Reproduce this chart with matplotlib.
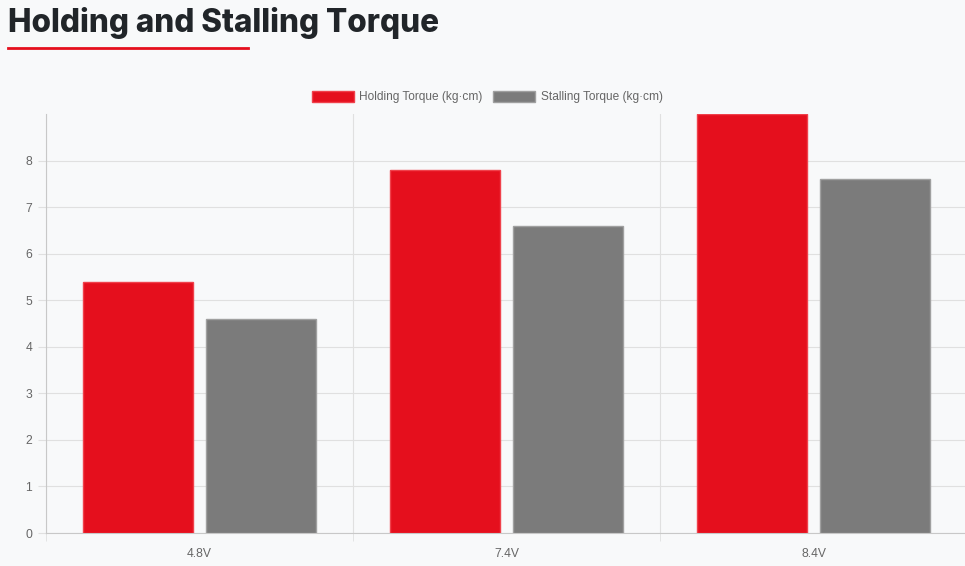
import matplotlib
matplotlib.use("Agg")
import matplotlib.pyplot as plt
from matplotlib.lines import Line2D
import numpy as np

# chart data
voltages = ["4.8V", "7.4V", "8.4V"]
holding_torque = [5.4, 7.8, 9.0]
stalling_torque = [4.6, 6.6, 7.6]
series_labels = ["Holding Torque (kg\u00b7cm)", "Stalling Torque (kg\u00b7cm)"]
y_ticks = [0, 1, 2, 3, 4, 5, 6, 7, 8]

BG = "#f8f9fa"
RED = "#e50f1d"
GRAY = "#7b7b7b"
GRID = "#e0e0e0"
TEXT = "#666666"

plt.rcParams["font.family"] = ["Liberation Sans", "DejaVu Sans"]

W, H = 965, 566
fig = plt.figure(figsize=(W / 100, H / 100), dpi=100, facecolor=BG)

# title with red underline
fig.text(8 / W, 1 - 32 / H, "Holding and Stalling Torque", family=["Inter", "DejaVu Sans"],
         fontsize=22.7, fontweight=800, color="#212529", ha="left", va="baseline")
fig.add_artist(Line2D([8 / W, 248 / W], [1 - 48 / H, 1 - 48 / H], color=RED, lw=2.0,
                      transform=fig.transFigure))

left, right, bottom, top = 46, 967, 533, 114
ax = fig.add_axes([left / W, 1 - bottom / H, (right - left) / W, (bottom - top) / H])
ax.set_facecolor(BG)

x = np.arange(len(voltages))
width = 0.36
ax.bar(x - 0.2, holding_torque, width, color=RED, edgecolor="#f0414b", linewidth=1.0,
       label=series_labels[0], zorder=3)
ax.bar(x + 0.2, stalling_torque, width, color=GRAY, edgecolor="#a0a0a0", linewidth=1.0,
       label=series_labels[1], zorder=3)

ax.set_xlim(-0.5, len(voltages) - 0.5)
ax.set_ylim(0, 9)
ax.set_yticks(y_ticks)
ax.set_xticks(x)
ax.set_xticklabels(voltages)
ax.set_xticks(np.arange(len(voltages)) - 0.5, minor=True)

ax.grid(axis="y", color=GRID, lw=0.8, zorder=0)
ax.grid(axis="x", which="minor", color=GRID, lw=0.8, zorder=0)
ax.tick_params(axis="y", length=6, color=GRID, labelsize=8.7, labelcolor=TEXT, pad=4)
ax.tick_params(axis="x", which="major", length=0, labelsize=8.7, labelcolor=TEXT, pad=11)
ax.tick_params(axis="x", which="minor", length=6, color=GRID)

for side in ["top", "right"]:
    ax.spines[side].set_visible(False)
for side in ["left", "bottom"]:
    ax.spines[side].set_color("#c8c8c8")
    ax.spines[side].set_linewidth(0.8)

fig.legend(loc="center", bbox_to_anchor=(0.505, 1 - 97 / H), ncol=2, frameon=False,
           fontsize=8.6, labelcolor=TEXT, handlelength=3.5, handleheight=1.1,
           handletextpad=0.45, columnspacing=0.9, borderaxespad=0)

fig.savefig("out.png", dpi=100, facecolor=BG)
